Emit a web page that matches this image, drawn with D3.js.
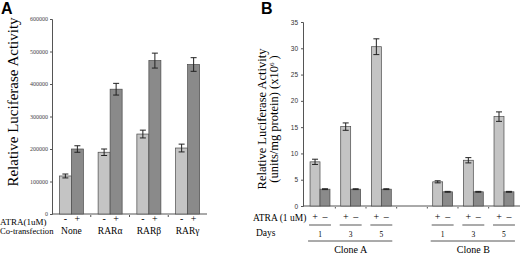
<!DOCTYPE html>
<html><head><meta charset="utf-8">
<script src="https://cdn.jsdelivr.net/npm/d3@7"></script>
<style>body{margin:0;background:#fff}svg{display:block}</style>
</head><body>
<svg id="c" width="520" height="255"></svg>
<script>
// Panel A data
const groupsA = ["None", "RARα", "RARβ", "RARγ"];
const atraA = ["-", "+"];
const valuesA_minus = [117000, 190000, 246000, 203000];
const valuesA_plus = [200000, 384000, 472000, 460000];
const errA_minus = [6000, 10000, 12000, 12000];
const errA_plus = [10000, 18000, 23000, 21000];
const ticksA = [0, 100000, 200000, 300000, 400000, 500000, 600000];

// Panel B data
const slotsB = ["A1", "A3", "A5", "gap", "B1", "B3", "B5"];
const groupsB = ["A1", "A3", "A5", "B1", "B3", "B5"];
const daysB = ["1", "3", "5", "1", "3", "5"];
const atraB = ["+", "–"];
const valuesB_plus = [8.4, 15.1, 30.3, 4.6, 8.7, 17.0];
const valuesB_minus = [3.2, 3.2, 3.2, 2.7, 2.7, 2.7];
const errB_plus = [0.5, 0.7, 1.5, 0.2, 0.5, 0.9];
const errB_minus = [0.08, 0.08, 0.08, 0.08, 0.08, 0.08];
const ticksB = [0, 5, 10, 15, 20, 25, 30, 35];
const clones = ["Clone A", "Clone B"];

const svg = d3.select("#c");
const serif = "'Liberation Serif','Times New Roman',serif";
const sans = "'Liberation Sans',Arial,sans-serif";
const light = "#c4c4c4", dark = "#8a8a8a", edge = "#4a4a4a";

// ---------- Panel A ----------
const gA = svg.append("g");
gA.append("text").attr("x", 1).attr("y", 14).text("A")
  .attr("font-family", sans).attr("font-weight", "bold").attr("font-size", 16);

const yA = d3.scaleLinear().domain([0, 600000]).range([214, 19]);
const xA = d3.scaleBand().domain(groupsA).range([52, 207]).paddingInner(0.38).paddingOuter(0.19);
const xAin = d3.scaleBand().domain(atraA).range([0, xA.bandwidth()]);

const axA = gA.append("g").attr("transform", "translate(52,0)")
  .call(d3.axisLeft(yA).tickValues(ticksA).tickFormat(d3.format("d")).tickSize(2).tickPadding(2));
axA.select(".domain").attr("stroke", "#555");
axA.selectAll("line").attr("stroke", "#555");
axA.selectAll("text").attr("font-family", serif).attr("font-size", 6).attr("fill", "#444");

gA.append("line").attr("x1", 52).attr("x2", 207).attr("y1", yA(0)).attr("y2", yA(0))
  .attr("stroke", "#555").attr("stroke-width", 1);
gA.selectAll(".sepA").data(groupsA.slice(1)).join("line")
  .attr("x1", d => xA(d) - xA.step() * xA.paddingInner() / 2)
  .attr("x2", d => xA(d) - xA.step() * xA.paddingInner() / 2)
  .attr("y1", yA(0) + 1).attr("y2", yA(0) + 3).attr("stroke", "#555");

const dataA = groupsA.map((g, i) => [
  {g, a: "-", v: valuesA_minus[i], e: errA_minus[i], c: light},
  {g, a: "+", v: valuesA_plus[i], e: errA_plus[i], c: dark}
]).flat();

gA.selectAll(".barA").data(dataA).join("rect")
  .attr("x", d => xA(d.g) + xAin(d.a)).attr("width", xAin.bandwidth())
  .attr("y", d => yA(d.v)).attr("height", d => yA(0) - yA(d.v))
  .attr("fill", d => d.c).attr("stroke", edge).attr("stroke-width", 0.7);

const errG = gA.selectAll(".errA").data(dataA).join("g");
errG.each(function(d) {
  const cx = xA(d.g) + xAin(d.a) + xAin.bandwidth() / 2;
  const s = d3.select(this);
  s.append("line").attr("x1", cx).attr("x2", cx)
    .attr("y1", yA(d.v + d.e)).attr("y2", yA(d.v - d.e)).attr("stroke", "#222");
  [d.v + d.e, d.v - d.e].forEach(v => s.append("line")
    .attr("x1", cx - 3).attr("x2", cx + 3).attr("y1", yA(v)).attr("y2", yA(v)).attr("stroke", "#222"));
});

gA.append("text").attr("x", 0).attr("y", 224.5).text("ATRA(1uM)")
  .attr("font-family", serif).attr("font-size", 9);
gA.append("text").attr("x", 0).attr("y", 234).text("Co-transfection")
  .attr("font-family", serif).attr("font-size", 8.6);
gA.selectAll(".pmA").data(dataA).join("text")
  .attr("x", d => xA(d.g) + xAin(d.a) + xAin.bandwidth() / 2).attr("y", 222)
  .attr("text-anchor", "middle").text(d => d.a)
  .attr("font-family", serif).attr("font-size", 10);
gA.selectAll(".grpA").data(groupsA).join("text")
  .attr("x", d => xA(d) + xA.bandwidth() / 2).attr("y", 234)
  .attr("text-anchor", "middle").text(d => d)
  .attr("font-family", serif).attr("font-size", 9.5);

gA.append("text").attr("transform", "translate(18,102) rotate(-90)")
  .attr("text-anchor", "middle").text("Relative Luciferase Activity")
  .attr("font-family", serif).attr("font-size", 15);

// ---------- Panel B ----------
const gB = svg.append("g");
gB.append("text").attr("x", 261).attr("y", 14).text("B")
  .attr("font-family", sans).attr("font-weight", "bold").attr("font-size", 16);

const yB = d3.scaleLinear().domain([0, 35]).range([206, 22]);
const xB = d3.scaleBand().domain(slotsB).range([303, 521]).paddingInner(0.35).paddingOuter(0.23);
const xBin = d3.scaleBand().domain(atraB).range([0, xB.bandwidth()]);

const axB = gB.append("g").attr("transform", "translate(303,0)")
  .call(d3.axisLeft(yB).tickValues(ticksB).tickSize(2).tickPadding(3));
axB.select(".domain").attr("stroke", "#555");
axB.selectAll("line").attr("stroke", "#555");
axB.selectAll("text").attr("font-family", sans).attr("font-size", 6.5).attr("fill", "#333");

gB.append("line").attr("x1", 303).attr("x2", 520).attr("y1", yB(0)).attr("y2", yB(0))
  .attr("stroke", "#555");
gB.selectAll(".sepB").data(slotsB.slice(1)).join("line")
  .attr("x1", d => xB(d) - xB.step() * xB.paddingInner() / 2)
  .attr("x2", d => xB(d) - xB.step() * xB.paddingInner() / 2)
  .attr("y1", yB(0) + 1).attr("y2", yB(0) + 2.5).attr("stroke", "#555");

const dataB = groupsB.map((g, i) => [
  {g, a: "+", v: valuesB_plus[i], e: errB_plus[i], c: light},
  {g, a: "–", v: valuesB_minus[i], e: errB_minus[i], c: dark}
]).flat();

gB.selectAll(".barB").data(dataB).join("rect")
  .attr("x", d => xB(d.g) + xBin(d.a)).attr("width", xBin.bandwidth())
  .attr("y", d => yB(d.v)).attr("height", d => yB(0) - yB(d.v))
  .attr("fill", d => d.c).attr("stroke", edge).attr("stroke-width", 0.7);

const errGB = gB.selectAll(".errB").data(dataB).join("g");
errGB.each(function(d) {
  const cx = xB(d.g) + xBin(d.a) + xBin.bandwidth() / 2;
  const s = d3.select(this);
  s.append("line").attr("x1", cx).attr("x2", cx)
    .attr("y1", yB(d.v + d.e)).attr("y2", yB(d.v - d.e)).attr("stroke", "#222");
  [d.v + d.e, d.v - d.e].forEach(v => s.append("line")
    .attr("x1", cx - 3).attr("x2", cx + 3).attr("y1", yB(v)).attr("y2", yB(v)).attr("stroke", "#222"));
});

gB.append("text").attr("x", 253).attr("y", 221).text("ATRA (1 uM)")
  .attr("font-family", serif).attr("font-size", 9.5);
gB.append("text").attr("x", 256).attr("y", 236).text("Days")
  .attr("font-family", serif).attr("font-size", 9.5);

gB.selectAll(".pmB").data(dataB).join("text")
  .attr("x", d => xB(d.g) + xBin(d.a) + xBin.bandwidth() / 2).attr("y", 220)
  .attr("text-anchor", "middle").text(d => d.a)
  .attr("font-family", serif).attr("font-size", 10);
gB.selectAll(".ulB").data(groupsB).join("line")
  .attr("x1", d => xB(d) - 1).attr("x2", d => xB(d) + xB.bandwidth() + 1)
  .attr("y1", 225).attr("y2", 225).attr("stroke", "#444").attr("stroke-width", 0.9);
gB.selectAll(".dayB").data(groupsB).join("text")
  .attr("x", d => xB(d) + xB.bandwidth() / 2).attr("y", 237)
  .attr("text-anchor", "middle").text((d, i) => daysB[i])
  .attr("font-family", serif).attr("font-size", 7.5);
const cloneSets = [groupsB.slice(0, 3), groupsB.slice(3)];
gB.selectAll(".clB").data(clones).join("line")
  .attr("x1", (d, i) => xB(cloneSets[i][0]) - 2)
  .attr("x2", (d, i) => xB(cloneSets[i][2]) + xB.bandwidth() + 1)
  .attr("y1", 241).attr("y2", 241).attr("stroke", "#444").attr("stroke-width", 0.9);
gB.selectAll(".clT").data(clones).join("text")
  .attr("x", (d, i) => (xB(cloneSets[i][0]) + xB(cloneSets[i][2]) + xB.bandwidth()) / 2)
  .attr("y", 253).attr("text-anchor", "middle").text(d => d)
  .attr("font-family", serif).attr("font-size", 10);

gB.append("text").attr("transform", "translate(266,119) rotate(-90)")
  .attr("text-anchor", "middle").text("Relative Luciferase Activity")
  .attr("font-family", serif).attr("font-size", 12.5);
const t2 = gB.append("text").attr("transform", "translate(278,119) rotate(-90)")
  .attr("text-anchor", "middle").attr("font-family", serif).attr("font-size", 12.5);
t2.append("tspan").text("(units/mg protein) (x10");
t2.append("tspan").text("6").attr("font-size", 7).attr("dy", -4);
t2.append("tspan").text(" )").attr("dy", 4);
</script>
</body></html>
